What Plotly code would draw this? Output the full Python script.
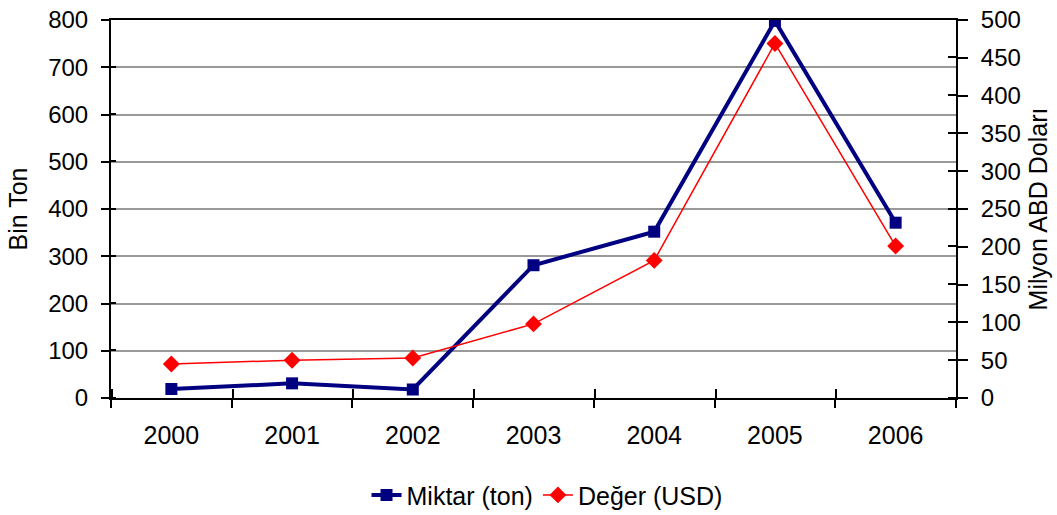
import plotly.graph_objects as go

years = ["2000", "2001", "2002", "2003", "2004", "2005", "2006"]
miktar = [19, 31, 18, 281, 352, 798, 371]
deger = [45, 50, 53, 98, 182, 469, 201]
left_ticks = [0, 100, 200, 300, 400, 500, 600, 700, 800]
right_ticks = [0, 50, 100, 150, 200, 250, 300, 350, 400, 450, 500]

idx = list(range(len(years)))
bounds = [i - 0.5 for i in range(len(years) + 1)]
xr = [-0.5, len(years) - 0.5]
FAM = "Liberation Sans, Arial"
FRAC = 0.0012  # sub-pixel offset (fraction of range) so inside ticks are not merged with major ticks


def nudge(vals, span):
    return [v + FRAC * span for v in vals]


fig = go.Figure()
fig.add_trace(go.Scatter(
    x=idx, y=miktar, name="Miktar (ton)", mode="lines+markers",
    line=dict(color="#000080", width=4),
    marker=dict(symbol="square", size=12, color="#000080"),
    xaxis="x", yaxis="y"))
fig.add_trace(go.Scatter(
    x=idx, y=deger, name="Değer (USD)", mode="lines+markers",
    line=dict(color="#ff0000", width=1.5),
    marker=dict(symbol="diamond", size=13, color="#ff0000"),
    xaxis="x", yaxis="y2"))
# transparent helper so the overlay x axis carrying boundary ticks is drawn
fig.add_trace(go.Scatter(x=idx, y=miktar, xaxis="x2", yaxis="y", mode="markers",
                         marker=dict(size=1, color="rgba(0,0,0,0)"),
                         showlegend=False, hoverinfo="skip"))

tick_common = dict(tickwidth=2, tickcolor="black", automargin=False)

fig.update_layout(
    width=1057, height=515,
    margin=dict(l=111, r=101, t=20, b=117, autoexpand=False),
    paper_bgcolor="white", plot_bgcolor="white",
    font=dict(family=FAM, size=24, color="black"),
    showlegend=True,
    legend=dict(orientation="h", x=0.516, xanchor="center", y=-0.257, yanchor="middle",
                font=dict(family=FAM, size=25)),
    xaxis=dict(range=xr, tickvals=idx, ticktext=years, showline=True,
               linecolor="black", linewidth=2, mirror=True, ticks="",
               ticklabelstandoff=14, showgrid=False, zeroline=False,
               tickfont=dict(family=FAM, size=25), automargin=False),
    xaxis2=dict(range=xr, overlaying="x", anchor="y", side="bottom",
                tickvals=bounds, ticks="outside", ticklen=9,
                minor=dict(tickmode="array", tickvals=nudge(bounds, xr[1] - xr[0]),
                           ticks="inside", ticklen=9, tickwidth=2, tickcolor="black",
                           showgrid=False),
                showticklabels=False, showgrid=False, showline=False,
                zeroline=False, **tick_common),
    yaxis=dict(range=[0, 800], tickvals=left_ticks, showline=True, linecolor="black",
               linewidth=2, ticks="outside", ticklen=8, ticklabelstandoff=8,
               minor=dict(tickmode="array", tickvals=nudge(left_ticks[:-1], 800),
                          ticks="inside", ticklen=5, tickwidth=2, tickcolor="black",
                          showgrid=False),
               showgrid=True, gridcolor="#999999", gridwidth=2, zeroline=False,
               tickfont=dict(family=FAM, size=24),
               title=dict(text="Bin Ton", standoff=13, font=dict(family=FAM, size=25)),
               **tick_common),
    yaxis2=dict(range=[0, 500], tickvals=right_ticks, overlaying="y", side="right",
                anchor="x", showline=True, linecolor="black", linewidth=2,
                ticks="outside", ticklen=10, ticklabelstandoff=8, showgrid=False,
                minor=dict(tickmode="array", tickvals=nudge(right_ticks[:-1], 500),
                           ticks="inside", ticklen=8, tickwidth=2, tickcolor="black",
                           showgrid=False),
                zeroline=False, tickfont=dict(family=FAM, size=24),
                title=dict(text="Milyon ABD Doları", standoff=10,
                           font=dict(family=FAM, size=25)),
                **tick_common),
)

fig.write_html("out.html", config={"displayModeBar": False},
               post_script="document.body.style.margin='0px';document.body.style.padding='0px';")
